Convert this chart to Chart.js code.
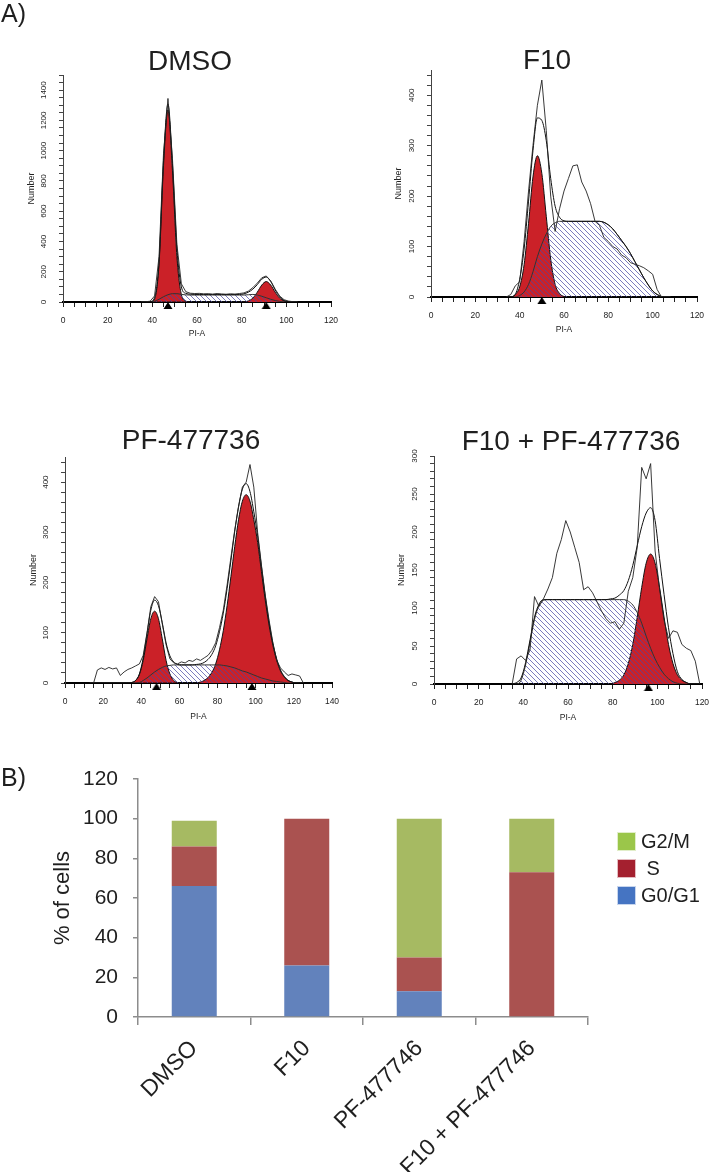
<!DOCTYPE html>
<html lang="en">
<head>
<meta charset="UTF-8" />
<title>Cell cycle distribution</title>
<script src="https://cdn.jsdelivr.net/npm/chart.js"></script>
<style>
  html, body { margin: 0; padding: 0; background: #fff; }
  #page { position: relative; width: 711px; height: 1172px; overflow: hidden; }
  .box { position: absolute; }
</style>
</head>
<body>
<div id="page">
  <div class="box" style="left:0;top:0"><canvas id="dmso" width="360" height="345"></canvas></div>
  <div class="box" style="left:360px;top:0"><canvas id="f10" width="351" height="345"></canvas></div>
  <div class="box" style="left:0;top:400px"><canvas id="pf" width="360" height="345"></canvas></div>
  <div class="box" style="left:360px;top:400px"><canvas id="combo" width="351" height="345"></canvas></div>
  <div class="box" style="left:0;top:740px"><canvas id="bars" width="711" height="432"></canvas></div>
</div>
<script>
// ---- A) DNA content histograms (PI-A) ----
// DMSO
const dmsoX   = [35,37,39,41,43,45,47,49,51,53,55,57,59,61,63,65,67,69,71,73,75,77,79,81,83,85,87,89,91,93,95,97,99,101,103,105];
const dmsoRaw = [0,2,5,40,300,980,1345,950,380,120,68,58,56,57,54,55,52,56,53,51,54,52,56,60,72,95,125,160,172,140,85,40,15,6,2,0];
const dmsoFit = [0,0,2,30,268,935,1308,915,355,100,57,52,50,50,50,50,50,50,50,50,50,50,50,54,65,85,115,150,165,135,80,35,10,2,0,0];
const dmsoG1  = [0,0,0,20,250,900,1270,870,300,50,6,0,0,0,0,0,0,0,0,0,0,0,0,0,0,0,0,0,0,0,0,0,0,0,0,0];
const dmsoS   = [0,0,0,5,18,35,48,55,55,50,47,46,46,46,46,46,46,46,46,46,46,46,46,46,48,50,46,38,28,18,10,4,1,0,0,0];
const dmsoG2  = [0,0,0,0,0,0,0,0,0,0,0,0,0,0,0,0,0,0,0,0,0,0,0,1,7,26,65,112,135,112,65,26,7,1,0,0];
const dmsoMarks = [47, 91];

// F10
const f10X   = [34,36,38,40,42,44,46,48,50,52,54,56,58,60,62,64,66,68,70,72,74,76,78,80,82,84,86,88,90,92,94,96,98,100,102,104,106,108];
const f10Raw = [0,5,22,30,110,210,300,380,430,330,200,130,175,210,235,260,262,228,210,185,150,142,118,110,100,95,83,78,68,65,62,58,52,45,15,0,0,0];
const f10Fit = [0,0,5,35,95,190,290,355,350,310,235,180,158,151,150,150,150,150,150,150,150,150,148,143,135,124,112,100,86,70,54,38,24,12,5,1,0,0];
const f10G1  = [0,0,5,20,64,146,238,280,245,160,75,25,7,1,0,0,0,0,0,0,0,0,0,0,0,0,0,0,0,0,0,0,0,0,0,0,0,0];
const f10S   = [0,0,0,3,10,25,50,80,105,125,140,147,150,150,150,150,150,150,150,150,150,150,148,143,135,124,112,100,86,70,54,38,24,12,5,1,0,0];
const f10G2  = [];
const f10Marks = [50];

// PF-477736
const pfX   = [13,15,17,19,21,23,25,27,29,31,33,35,37,39,41,43,45,47,49,51,53,55,57,59,61,63,65,67,69,71,73,75,77,79,81,83,85,87,89,91,93,95,97,99,101,103,105,107,109,111,113,115,117,119,121,123,125];
const pfRaw = [0,0,26,30,27,31,28,30,15,22,27,30,34,38,55,100,152,172,162,118,76,48,40,38,42,40,45,43,48,45,50,55,65,80,110,145,195,250,305,350,390,400,435,390,300,235,175,125,80,45,30,22,15,18,16,14,0];
const pfFit = [0,0,0,0,0,0,0,0,0,0,0,1,5,18,50,98,145,165,154,120,80,54,42,37,36,36,36,36,37,38,41,47,57,74,102,139,188,244,302,352,386,397,381,341,293,232,173,121,79,48,26,13,5,2,0,0,0];
const pfG1  = [0,0,0,0,0,0,0,0,0,0,0,1,5,17,45,88,128,143,128,88,45,18,5,1,0,0,0,0,0,0,0,0,0,0,0,0,0,0,0,0,0,0,0,0,0,0,0,0,0,0,0,0,0,0,0,0,0];
const pfS   = [0,0,0,0,0,0,0,0,0,0,0,0,0,1,5,10,16,22,27,31,34,35,36,36,36,36,36,36,36,36,36,36,36,36,36,35,34,32,30,27,24,22,19,16,13,10,8,6,4,3,2,1,0,0,0,0,0];
const pfG2  = [0,0,0,0,0,0,0,0,0,0,0,0,0,0,0,0,0,0,0,0,0,0,0,0,0,0,0,0,0,2,5,11,21,38,66,104,154,212,272,325,362,375,362,325,280,222,165,115,75,45,24,12,5,2,0,0,0];
const pfMarks = [48, 98];

// F10 + PF-477736
const comboX   = [35,37,39,41,43,45,47,49,51,53,55,57,59,61,63,65,67,69,71,73,75,77,79,81,83,85,87,89,91,93,95,97,99,101,103,105,107,109,111,113,115,117,119];
const comboRaw = [0,33,37,31,45,115,102,112,125,140,172,190,215,200,180,160,124,128,120,108,96,86,80,82,72,80,122,140,180,285,270,290,175,125,84,60,70,68,52,47,44,30,0];
const comboFit = [0,2,8,28,58,88,105,111,111,111,111,111,111,111,111,111,111,111,111,111,111,111,112,113,117,123,136,156,182,207,225,232,215,165,118,74,40,16,6,2,0,0,0];
const comboG1  = [];
const comboS   = [0,0,5,25,55,85,103,110,111,111,111,111,111,111,111,111,111,111,111,111,111,111,111,111,111,111,109,104,94,80,63,47,33,22,13,7,3,1,0,0,0,0,0];
const comboG2  = [0,0,0,0,0,0,0,0,0,0,0,0,0,0,0,0,0,0,0,0,0,0,0,2,5,12,27,52,88,127,159,171,159,127,88,52,27,12,5,2,0,0,0];
const comboMarks = [96];

// ---- B) % of cells per phase ----
const groups  = ['DMSO', 'F10', 'PF-477746', 'F10 + PF-477746'];
const pctG0G1 = [66, 26, 13, 0];
const pctS    = [20, 74, 17, 73];
const pctG2M  = [13, 0, 70, 27];
const phaseNames   = ['G0/G1', 'S', 'G2/M'];
const barColors    = ['#6282BC', '#AA5250', '#A6BA62'];
const legendColors = ['#4574C2', '#A4202F', '#9BC64A'];

const FONT = '"Liberation Sans", Arial, sans-serif';
const INK = '#1f1f1f';
const RED = '#CB2128';
Chart.defaults.font.family = FONT;

// rotated tick labels on the histogram y axes
const rotatedYTicks = {
  id: 'rotatedYTicks',
  afterDraw(chart, args, opts) {
    if (!opts || !opts.every) return;
    const y = chart.scales.y, ctx = chart.ctx;
    ctx.save();
    ctx.font = '8px ' + FONT;
    ctx.fillStyle = '#222';
    ctx.textAlign = 'center';
    ctx.textBaseline = 'middle';
    y.ticks.forEach(t => {
      if (t.value % opts.every !== 0) return;
      ctx.save();
      ctx.translate(y.right - opts.offset, y.getPixelForValue(t.value));
      ctx.rotate(-Math.PI / 2);
      ctx.fillText(String(t.value), 0, 0);
      ctx.restore();
    });
    ctx.restore();
  }
};

// panel titles and letters
const panelText = {
  id: 'panelText',
  afterDraw(chart, args, opts) {
    if (!opts || !opts.items) return;
    const ctx = chart.ctx;
    ctx.save();
    ctx.fillStyle = INK;
    ctx.textBaseline = 'middle';
    opts.items.forEach(it => {
      ctx.font = it.size + 'px ' + FONT;
      ctx.textAlign = it.align || 'center';
      ctx.fillText(it.text, it.x, it.y);
    });
    ctx.restore();
  }
};

// legend of panel B (reverse order, own colours)
const phaseLegend = {
  id: 'phaseLegend',
  afterDraw(chart, args, opts) {
    if (!opts || !opts.box) return;
    const ctx = chart.ctx;
    const sets = chart.data.datasets.map((d, i) => ({label: d.label, color: legendColors[i]})).reverse();
    ctx.save();
    ctx.font = opts.size + 'px ' + FONT;
    ctx.textBaseline = 'middle';
    ctx.textAlign = 'left';
    sets.forEach((s, i) => {
      const top = opts.y + i * opts.gap;
      ctx.fillStyle = s.color;
      ctx.fillRect(opts.x, top, opts.box, opts.box);
      ctx.strokeStyle = 'rgba(255,255,255,0.7)';
      ctx.strokeRect(opts.x + 0.5, top + 0.5, opts.box - 1, opts.box - 1);
      ctx.fillStyle = INK;
      ctx.fillText(s.label === 'S' ? ' S' : s.label, opts.x + opts.box + 5, top + opts.box / 2 + 1);
    });
    ctx.restore();
  }
};

Chart.register(rotatedYTicks, panelText, phaseLegend);

function makeHatch(ctx) {
  const c = document.createElement('canvas');
  c.width = c.height = 5;
  const g = c.getContext('2d');
  g.strokeStyle = 'rgba(72,72,165,0.8)';
  g.lineWidth = 0.9;
  g.beginPath();
  g.moveTo(0, 0); g.lineTo(5, 5);
  g.moveTo(-1, 4); g.lineTo(1, 6);
  g.moveTo(4, -1); g.lineTo(6, 1);
  g.stroke();
  return ctx.createPattern(c, 'repeat');
}

// peak-position marker: triangle hanging under the axis
const markImg = (() => {
  const c = document.createElement('canvas');
  c.width = 10; c.height = 18;
  const g = c.getContext('2d');
  g.fillStyle = '#000';
  g.beginPath();
  g.moveTo(5, 9); g.lineTo(9.5, 16); g.lineTo(0.5, 16); g.closePath();
  g.fill();
  return c;
})();

function zip(xs, ys) {
  return ys.length ? xs.map((x, i) => ({x: x, y: ys[i]})) : [];
}

function histChart(id, p) {
  const ctx = document.getElementById(id).getContext('2d');
  const smooth = {pointRadius: 0, borderColor: '#111', borderWidth: 1, cubicInterpolationMode: 'monotone', fill: false};
  return new Chart(ctx, {
    type: 'line',
    data: {
      datasets: [
        {data: p.marks.map(x => ({x: x, y: 0})), showLine: false, pointStyle: markImg, pointRadius: 4, clip: false},
        {data: zip(p.x, p.raw), pointRadius: 0, borderColor: '#222', borderWidth: 0.9, tension: 0, fill: false},
        {...smooth, data: zip(p.x, p.fit)},
        {...smooth, data: zip(p.x, p.s), fill: 'origin', backgroundColor: makeHatch(ctx), borderColor: '#333'},
        {...smooth, data: zip(p.x, p.g2), fill: 'origin', backgroundColor: RED},
        {...smooth, data: zip(p.x, p.g1), fill: 'origin', backgroundColor: RED}
      ]
    },
    options: {
      responsive: false,
      animation: false,
      events: [],
      layout: {padding: {top: p.padTop, right: p.padRight, left: 0, bottom: 0}},
      plugins: {
        legend: {display: false},
        tooltip: {enabled: false},
        rotatedYTicks: {every: p.yLabelStep, offset: 19},
        panelText: {items: p.texts}
      },
      scales: {
        x: {
          type: 'linear', min: 0, max: p.xMax,
          ticks: {stepSize: 5, autoSkip: false, maxRotation: 0, padding: 9, color: '#222',
                  font: {size: 8.5}, callback: v => (v % 20 === 0 ? v : '')},
          grid: {drawOnChartArea: false, tickLength: 5, color: '#222', lineWidth: 1},
          border: {color: '#000', width: 2},
          title: {display: true, text: 'PI-A', color: '#222', font: {size: 8.5},
                  padding: {top: 0, bottom: p.xTitlePad}},
          afterFit: s => { s.height = p.xAxisH; s.paddingLeft = 0; s.paddingRight = 0; }
        },
        y: {
          min: 0, max: p.yMax,
          ticks: {stepSize: p.yStep, autoSkip: false, includeBounds: false, callback: () => ''},
          grid: {drawOnChartArea: false, tickLength: 4, color: '#444'},
          border: {color: '#444', width: 1},
          title: {display: true, text: 'Number', color: '#222', font: {size: 9},
                  padding: {top: p.yTitlePad, bottom: 0}},
          afterFit: s => { s.width = p.yAxisW; s.paddingTop = 0; s.paddingBottom = 0; }
        }
      }
    }
  });
}

histChart('dmso', {
  x: dmsoX, raw: dmsoRaw, fit: dmsoFit, g1: dmsoG1, s: dmsoS, g2: dmsoG2, marks: dmsoMarks,
  xMax: 120, yMax: 1500, yStep: 50, yLabelStep: 200,
  yAxisW: 63, padTop: 75, padRight: 29, xAxisH: 43, xTitlePad: 6, yTitlePad: 26,
  texts: [{text: 'A)', x: 1, y: 15, size: 25, align: 'left'}, {text: 'DMSO', x: 190, y: 62, size: 28}]
});

histChart('f10', {
  x: f10X, raw: f10Raw, fit: f10Fit, g1: f10G1, s: f10S, g2: f10G2, marks: f10Marks,
  xMax: 120, yMax: 450, yStep: 20, yLabelStep: 100,
  yAxisW: 71, padTop: 70, padRight: 14, xAxisH: 48, xTitlePad: 10, yTitlePad: 33,
  texts: [{text: 'F10', x: 187, y: 61, size: 28}]
});

histChart('pf', {
  x: pfX, raw: pfRaw, fit: pfFit, g1: pfG1, s: pfS, g2: pfG2, marks: pfMarks,
  xMax: 140, yMax: 450, yStep: 20, yLabelStep: 100,
  yAxisW: 65, padTop: 57, padRight: 28, xAxisH: 62, xTitlePad: 23, yTitlePad: 28,
  texts: [{text: 'PF-477736', x: 191, y: 41, size: 28}]
});

histChart('combo', {
  x: comboX, raw: comboRaw, fit: comboFit, g1: comboG1, s: comboS, g2: comboG2, marks: comboMarks,
  xMax: 120, yMax: 300, yStep: 10, yLabelStep: 50,
  yAxisW: 74, padTop: 56, padRight: 9, xAxisH: 61, xTitlePad: 22.5, yTitlePad: 36,
  texts: [{text: 'F10 + PF-477736', x: 211, y: 42, size: 28}]
});

// ---- B) stacked bars ----
new Chart(document.getElementById('bars'), {
  type: 'bar',
  data: {
    labels: groups,
    datasets: [
      {label: phaseNames[0], data: pctG0G1, backgroundColor: barColors[0]},
      {label: phaseNames[1], data: pctS, backgroundColor: barColors[1]},
      {label: phaseNames[2], data: pctG2M, backgroundColor: barColors[2]}
    ]
  },
  options: {
    responsive: false,
    animation: false,
    events: [],
    layout: {padding: {top: 39, right: 123, left: 0, bottom: 0}},
    datasets: {bar: {categoryPercentage: 1, barPercentage: 0.4, borderWidth: 0}},
    plugins: {
      legend: {display: false},
      tooltip: {enabled: false},
      phaseLegend: {x: 617, y: 92, gap: 27, box: 19, size: 20},
      panelText: {items: [{text: 'B)', x: 1, y: 39, size: 25, align: 'left'}]}
    },
    scales: {
      x: {
        stacked: true,
        ticks: {minRotation: 45, maxRotation: 45, autoSkip: false, padding: 10, color: INK, font: {size: 23}},
        grid: {offset: true, drawOnChartArea: false, tickLength: 8, color: '#8c8c8c', lineWidth: 1.5},
        border: {color: '#8c8c8c', width: 1.5},
        afterFit: s => { s.height = 155; s.paddingLeft = 0; s.paddingRight = 0; }
      },
      y: {
        stacked: true, min: 0, max: 120,
        ticks: {stepSize: 20, padding: 15, color: INK, font: {size: 21}},
        grid: {drawOnChartArea: false, tickLength: 5, color: '#8c8c8c', lineWidth: 1.5},
        border: {color: '#8c8c8c', width: 1.5},
        title: {display: true, text: '% of cells', color: INK, font: {size: 22}, padding: {top: 50, bottom: 0}},
        afterFit: s => { s.width = 138; s.paddingTop = 0; s.paddingBottom = 0; }
      }
    }
  }
});
</script>
</body>
</html>
